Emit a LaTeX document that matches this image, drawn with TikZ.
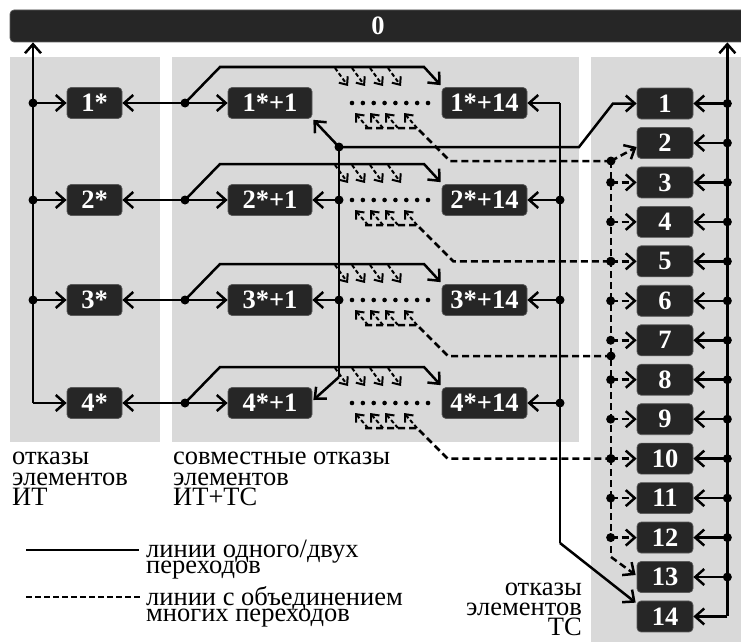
\documentclass[tikz,border=0pt]{standalone}
\usepackage{fontspec}
\setmainfont{Liberation Serif}
\usetikzlibrary{arrows.meta,calc}
\definecolor{nodefill}{HTML}{262626}
\definecolor{nodeedge}{HTML}{5a5a5a}
\definecolor{panel}{HTML}{D9D9D9}
\begin{document}
\begin{tikzpicture}[x=1pt,y=-1pt,
  blk/.style={fill=nodefill,draw=nodeedge,line width=0.7pt,rounded corners=4pt,text=white,
    font=\bfseries\fontsize{26.5}{26.5}\selectfont,minimum height=31pt,inner sep=0pt},
  ln/.style={line width=2.5pt},
  arr/.style={ln,-{Straight Barb[length=9pt,width=16pt]}},
  dsh/.style={ln,dash pattern=on 7pt off 4pt},
  darr/.style={dsh,-{Straight Barb[length=9pt,width=16pt]}},
  sarr/.style={line width=2pt,dash pattern=on 4pt off 2.5pt,-{Straight Barb[length=6.5pt,width=11pt]}},
  lbl/.style={font=\fontsize{26.5}{26.5}\selectfont,inner sep=0pt},
  dot/.style={fill=black}]
\useasboundingbox (0,0) rectangle (741,642);
\clip (0,0) rectangle (741,642);
% panels
\fill[panel] (10,57) rectangle (160,442);
\fill[panel] (172,57) rectangle (579,442);
\fill[panel] (591,57) rectangle (746,646);
% top bar
\node[blk,minimum width=736pt,minimum height=32pt] (top) at (378,26) {0};
% right column nodes
\foreach \i in {1,...,14}{
  \pgfmathsetmacro\yy{103.5+(\i-1)*39.46}
  \node[blk,minimum width=56pt] (t\i) at (665,\yy) {\i};
  \path (t\i.east) ++(34,0) coordinate (R\i);
  \path (t\i.west) ++(-26,0) coordinate (E\i);
}
% groups
\foreach \i/\y/\yd in {1/103/161,2/200/261.3,3/300/356,4/403/458.6}{
  \node[blk,minimum width=55pt] (s\i) at (94.5,\y) {\i*};
  \node[blk,minimum width=84pt] (a\i) at (270,\y) {\i*+1};
  \node[blk,minimum width=85pt] (b\i) at (484.5,\y) {\i*+14};
  \coordinate (L\i) at (33,\y);
  \coordinate (M\i) at (185,\y);
  \coordinate (K\i) at (560,\y);
  \coordinate (D\i) at (611,\yd);
  \draw[arr] (L\i) -- (s\i);
  \fill[dot] (M\i) circle (4.5pt);
  \draw[arr] (M\i) -- (s\i);
  \draw[arr] (M\i) -- (a\i);
  \draw[arr] (M\i) -- ++(35,-36) -- (424,\y-36) -- ($(b\i.north west)+(-1,-2)$);
  \draw[arr] (K\i) -- (b\i);
  % dotted row
  \foreach \k in {0,...,7}{\fill (352+\k*10.86,\y) circle (2.3pt);}
  % small arrows down-right
  \foreach \xx in {335,352,370,388}{\draw[sarr] (\xx,\y-35) -- ++(13,18);}
  % merged dashed line
  \draw[dsh] (365,\y+25) -- (417,\y+25) -- (417+\yd-\y-25,\yd) -- (D\i);
  \foreach \xx in {368,383,398,417}{\draw[sarr] (\xx,\y+25) -- ++(-13,-15);}
  \fill[dot] (D\i) circle (4.5pt);
}
% left vertical
\foreach \i in {1,2,3}{\fill[dot] (L\i) circle (4.5pt);}
\draw[arr] (L4) -- (L4 |- top.south);
% middle-right vertical to node 14
\foreach \i in {2,3,4}{\fill[dot] (K\i) circle (4.5pt);}
\coordinate (K5) at (560,543);
\draw[ln] (K1) -- (K5);
\draw[arr] (K5) -- ($(t14.north west)+(-1,2)$);
% vertical from node 1 to k*+1
\coordinate (J1) at (339,147);
\coordinate (J2) at (339,200);
\coordinate (J3) at (339,300);
\coordinate (J4) at (339,377);
\fill[dot] (J1) circle (4.5pt);
\fill[dot] (J2) circle (4.5pt);
\fill[dot] (J3) circle (4.5pt);
\draw[ln] (J1) -- (J4);
\draw[arr] (J1) -- ($(a1.south east)+(1,1)$);
\draw[arr] (J2) -- (a2);
\draw[arr] (J3) -- (a3);
\draw[arr] (J4) -- ($(a4.east)+(1,-3)$);
\coordinate (J5) at (579,147);
\draw[arr] (J1) -- (J5) -- (613,103.5) -- (t1);
% right solid vertical
\foreach \i in {1,...,13}{\fill[dot] (R\i) circle (4.5pt); \draw[arr] (R\i) -- (t\i);}
\draw[arr] (R14) -- (t14);
\draw[arr] (R14) -- (R14 |- top.south);
% right dashed vertical
\coordinate (E13b) at (611,557);
\draw[dsh] (D1) -- (E13b);
\draw[darr] (E13b) -- ($(t13.west)+(-1,-2)$);
\draw[darr] (D1) -- ($(t2.west)+(0,4)$);
\foreach \i in {3,...,12}{\fill[dot] (E\i) circle (4.5pt); \draw[darr] (E\i) -- (t\i);}
% labels
\node[lbl,anchor=base west] (la1) at (12,464) {отказы};
\node[lbl,anchor=base west] (la2) at (12,485) {элементов};
\node[lbl,anchor=base west] (la3) at (12,505) {ИТ};
\node[lbl,anchor=base west] (lb1) at (173,464) {совместные отказы};
\node[lbl,anchor=base west] (lb2) at (173,485) {элементов};
\node[lbl,anchor=base west] (lb3) at (173,505) {ИТ+ТС};
\node[lbl,anchor=base east] (lc1) at (582,595) {отказы};
\node[lbl,anchor=base east] (lc2) at (582,615) {элементов};
\node[lbl,anchor=base east] (lc3) at (582,635) {ТС};
% legend
\coordinate (g1a) at (26,550);
\coordinate (g1b) at (139,550);
\coordinate (g2a) at (26,597);
\coordinate (g2b) at (141,597);
\draw[ln] (g1a) -- (g1b);
\draw[line width=2.5pt,dash pattern=on 6pt off 3pt] (g2a) -- (g2b);
\node[lbl,anchor=base west] (ld1) at (146,557) {линии одного/двух};
\node[lbl,anchor=base west] (ld2) at (146,573.5) {переходов};
\node[lbl,anchor=base west] (ld3) at (146,605) {линии с объединением};
\node[lbl,anchor=base west] (ld4) at (146,621.5) {многих переходов};
\end{tikzpicture}
\end{document}
